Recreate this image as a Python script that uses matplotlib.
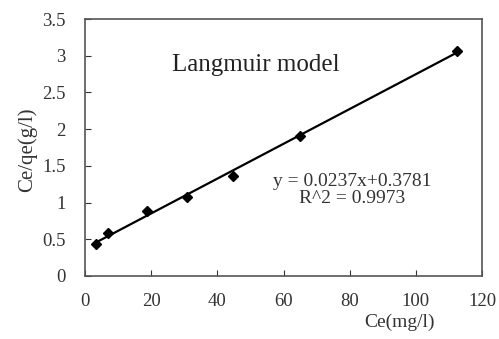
import numpy as np
import matplotlib.pyplot as plt

# Langmuir linearised data
ce = [3.2, 7.0, 18.6, 30.7, 44.8, 65.0, 112.5]
ce_qe = [0.43, 0.59, 0.89, 1.08, 1.36, 1.91, 3.07]
slope = 0.0237
intercept = 0.3781

plt.rcParams['font.family'] = ['Liberation Serif', 'DejaVu Serif']

fig = plt.figure(figsize=(4.99, 3.39), dpi=100)
ax = fig.add_axes([85 / 499, 63 / 339, 397 / 499, 257 / 339])

ax.plot(ce, ce_qe, linestyle='none', marker='D', markersize=5.5, color='black')
xfit = np.array([min(ce), max(ce)])
ax.plot(xfit, slope * xfit + intercept, color='black', linewidth=1.6)

ax.set_xlim(0, 120)
ax.set_ylim(0, 3.5)
ax.set_xticks(range(0, 121, 20))
ax.set_yticks(np.arange(0, 3.51, 0.5))
ax.set_yticklabels(['0', '0.5', '1', '1.5', '2', '2.5', '3', '3.5'])
ax.tick_params(direction='in', labelsize=13.5, colors='#333333', length=4)
ax.tick_params(axis='x', pad=12)
ax.tick_params(axis='y', pad=14)
for sp in ax.spines.values():
    sp.set_color('#555555')
    sp.set_linewidth(1.2)

ax.text(172 / 499, 1 - 65 / 339, 'Langmuir model', transform=fig.transFigure,
        fontsize=18, color='#222222', va='center')
ax.text(352 / 499, 1 - 190 / 339, 'y = 0.0237x+0.3781\nR^2 = 0.9973', transform=fig.transFigure,
        fontsize=14, color='#333333', ha='center', va='center', linespacing=1.0)

fig.text(27 / 499, 1 - 150 / 339, 'Ce/qe(g/l)', fontsize=15, color='#333333',
         rotation=90, ha='center', va='center')
fig.text(435 / 499, 1 - 322 / 339, 'Ce(mg/l)', fontsize=14, color='#333333',
         ha='right', va='center')

fig.savefig('out.png', dpi=100)
